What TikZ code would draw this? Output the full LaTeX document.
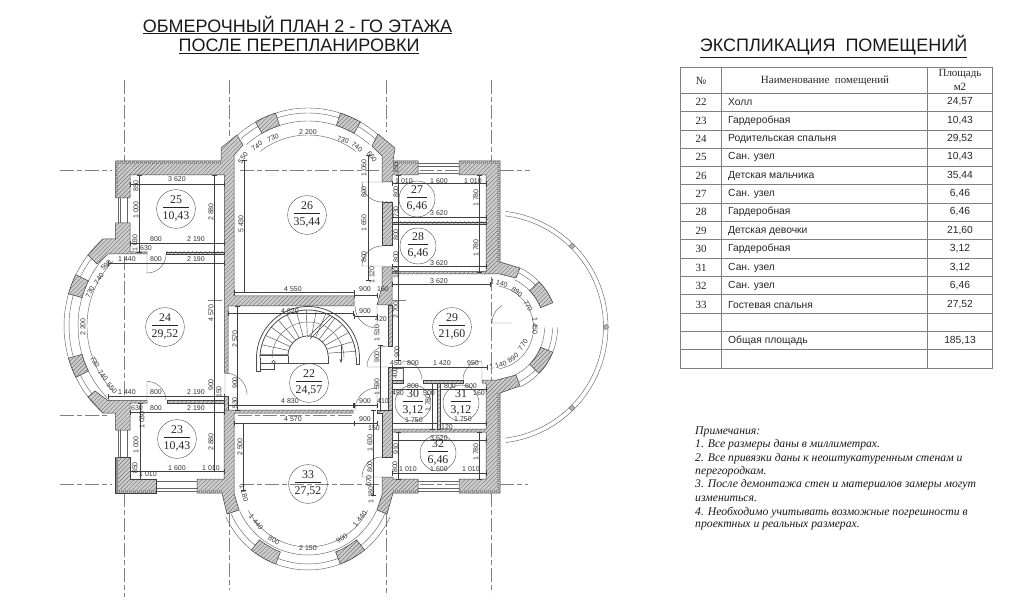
\documentclass[tikz,border=0pt]{standalone}
\usepackage{fontspec}
\setmainfont{Liberation Serif}
\setsansfont{Liberation Sans}
\usetikzlibrary{arrows.meta,patterns.meta}

\tikzset{
    wall/.style={draw=black!75,line width=.5pt,preaction={fill=gray!40},
        pattern={Lines[angle=45,distance=3pt,line width=.4pt]},pattern color=black!55},
    band/.style={draw=black!45,line width=2.6pt,dash pattern=on 1.2pt off .8pt},
    ringline/.style={draw=black!60,line width=.45pt},
    axisline/.style={draw=black!50,line width=.5pt,dash pattern=on 14pt off 3pt on 5pt off 3pt},
    dimline/.style={draw=black!75,line width=.35pt,{Bar[width=4pt,length=.4pt]}-{Bar[width=4pt,length=.4pt]}},
    dimlabel/.style={font=\sffamily\fontsize{7}{8}\selectfont,text=black!80,inner sep=0pt},
    roomtag/.style={circle,draw=black!70,line width=.4pt,minimum size=36pt,inner sep=0pt,
        font=\fontsize{11.8}{13}\selectfont,text=black!85},
    cellname/.style={font=\sffamily\fontsize{10.3}{11}\selectfont,text=black!85,inner sep=0pt},
    cellnum/.style={font=\fontsize{11}{13}\selectfont,text=black!85,inner sep=0pt},
    heading/.style={font=\sffamily\fontsize{18}{20}\selectfont,text=black!90,inner sep=0pt},
    noteline/.style={font=\itshape\fontsize{11.7}{12}\selectfont,text=black!90,inner sep=0pt,anchor=west},
}

% pier of a bay: centre x, centre y, inner r, outer r, from angle, to angle
\newcommand{\bayPier}[6]{%
    \draw[wall] plot[domain=#5:#6,samples=10] ({#1+#4*cos(\x)},{#2-#4*sin(\x)})
        -- plot[domain=#6:#5,samples=10] ({#1+#3*cos(\x)},{#2-#3*sin(\x)}) -- cycle;}
% one curve of a bay
\newcommand{\bayArc}[5]{%
    \draw[ringline] plot[domain=#4:#5,samples=40] ({#1+#3*cos(\x)},{#2-#3*sin(\x)});}
% door leaf: pivot x, pivot y, r, leaf angle, closing angle
\newcommand{\doorLeaf}[5]{%
    \draw[ringline] (#1,#2) -- ({#1+#3*cos(#4)},{#2-#3*sin(#4)})
        plot[domain=#4:#5,samples=16] ({#1+#3*cos(\x)},{#2-#3*sin(\x)});}
\newcommand{\roomText}[2]{\begin{tabular}{@{}c@{}}#1\\[-1pt]\hline\rule{0pt}{12pt}#2\end{tabular}}

\begin{document}
\begin{tikzpicture}[x=1pt,y=-1pt]
    \useasboundingbox (0,0) rectangle (1014,601);

    % axes
    \foreach \xa/\ya/\xb/\yb in {124.5/80/124.5/161,124.5/256/124.5/398,124.5/493/124.5/597,
            229.5/80/229.5/136,229.5/513/229.5/590,386/80/386/132,386/513/386/593,
            491/80/491/161,491/277/491/380,491/493/491/593,
            60/170/112/170,240/170/380/170,420/170/458/170,500/170/530/170,
            60/415/110/415,238/415/352/415,
            60/484/112/484,240/484/380/484,420/484/458/484,500/484/528/484,
            208/300/224/300,392/300/408/300}{%
        \draw[axisline] (\xa,\ya) -- (\xb,\yb);
    }

    % balcony
    \bayArc{491.5}{327}{116.5}{-83}{83}
    \bayArc{491.5}{327}{112}{-83}{83}
    \foreach \cx/\cy [count=\i] in {572/246,606/327,572/408}{%
        \node[circle,draw=black!60,fill=gray!60,line width=.4pt,minimum size=5pt,inner sep=0pt] (post\i) at (\cx,\cy) {};
    }

    % bays
    \foreach \r in {117,112,103}{\bayArc{181}{326}{\r}{132}{228}}
    \foreach \r in {105,100,92}{\bayArc{308}{213}{\r}{48}{132}}
    \foreach \r in {90,84,75}{\bayArc{308}{480}{\r}{204}{336}}
    \foreach \r in {66,61,53}{\bayArc{491.5}{327.5}{\r}{22}{64}\bayArc{491.5}{327.5}{\r}{-64}{0}}
    \bayPier{181}{326}{103}{117}{154}{164}
    \bayPier{181}{326}{103}{117}{196}{206}
    \bayPier{308}{213}{92}{105}{108}{120}
    \bayPier{308}{213}{92}{105}{60}{72}
    \bayPier{308}{480}{77}{90}{231}{249}
    \bayPier{308}{480}{77}{90}{291}{309}
    \bayPier{491.5}{327.5}{53}{66}{22}{44}
    \bayPier{491.5}{327.5}{53}{66}{-44}{-22}

    % window openings
    \foreach \xa/\ya/\xb/\yb in {118/198/118/223,120/198/120/223,127/198/127/223,
            118/430/118/457,120/430/120/457,127/430/127/457,
            418/163/459/163,418/166/459/166,418/173/459/173,
            418/481/459/481,418/488/459/488,418/491/459/491,
            156/481/197/481,156/488/197/488,156/491/197/491}{%
        \draw[ringline] (\xa,\ya) -- (\xb,\yb);
    }

    % walls
    \draw[wall] (115.5,198) -- (115.5,161) -- (221,161) -- (221,148) -- (237,135) -- (243,145) -- (234,155)
        -- (234,296) -- (354,296) -- (354,306) -- (228,306) -- (228,373) -- (224.5,373) -- (224.5,175)
        -- (130,175) -- (130,198) -- cycle;
    \draw[wall] (115.5,223) -- (115.5,239) -- (103,239) -- (88,255) -- (97,264) -- (108,254) -- (147,254)
        -- (147,252) -- (130,252) -- (130,223) -- cycle;
    \draw[wall] (166,252) rectangle (224.5,254);
    \draw[wall] (115.5,430) -- (115.5,413) -- (103,413) -- (88,397) -- (95,391) -- (108,400.5) -- (147,400.5)
        -- (147,403) -- (130,403) -- (130,430) -- cycle;
    \draw[wall] (167,400.5) rectangle (224.5,403);
    \draw[wall] (224.5,396) rectangle (228,410);
    \draw[wall] (115.5,457) -- (115.5,493) -- (156,493) -- (156,479) -- (130,479) -- (130,457) -- cycle;
    \draw[wall] (197,493) -- (197,479) -- (224,479) -- (224,410) -- (353,410) -- (353,413) -- (234,413) -- (234,493)
        -- (239,510) -- (227,514) -- (222,493) -- cycle;
    \draw[wall] (378,134) -- (395,148) -- (393,161) -- (418,161) -- (418,175) -- (392,175) -- (392,182) -- (382,182)
        -- (382,156) -- (372,146) -- cycle;
    \draw[wall] (459,175) -- (459,161) -- (500,161) -- (500,262) -- (520,268) -- (516,278) -- (500,274)
        -- (392,274) -- (392,271.5) -- (486,271.5) -- (486,175) -- cycle;
    \draw[wall] (382,202) rectangle (392,245);
    \draw[wall] (392,222) rectangle (486,224.5);
    \draw[wall] (382,267) -- (392,267) -- (392,305) -- (377,305) -- (382,287) -- cycle;
    \draw[wall] (388,305) rectangle (392,346);
    \draw[wall] (388,367) rectangle (392,429);
    \draw[ringline] (392,368) rectangle (403,380);
    \draw[wall] (392,380) rectangle (403,383);
    \draw[wall] (423,380) rectangle (463,383);
    \draw[wall] (459,493) -- (500,493) -- (500,393) -- (520,386) -- (516,375) -- (497,380) -- (482,380) -- (482,383)
        -- (486,383) -- (486,429) -- (388,429) -- (388,432) -- (486,432) -- (486,479) -- (459,479) -- cycle;
    \draw[wall] (437,383) rectangle (440,429);
    \draw[wall] (377,410) -- (392,410) -- (392,457) -- (382,457) -- (382,413) -- (377,413) -- cycle;
    \draw[wall] (393,479) -- (418,479) -- (418,493) -- (393,493) -- (387,514) -- (377,510) -- (382,495) -- (382,477)
        -- (393,477) -- cycle;

    % outer band of the walls
    \draw[band] (117,198) -- (117,162.5) -- (221,162.5);
    \draw[band] (393,162.5) -- (418,162.5);
    \draw[band] (459,162.5) -- (498.5,162.5) -- (498.5,262);
    \draw[band] (498.5,393) -- (498.5,491.5) -- (459,491.5);
    \draw[band] (418,491.5) -- (393,491.5);
    \draw[band] (197,491.5) -- (222,491.5);
    \draw[band] (156,491.5) -- (117,491.5) -- (117,457);

    % doors
    \doorLeaf{147}{254}{19}{270}{360}
    \doorLeaf{147}{400.5}{19}{90}{0}
    \doorLeaf{225}{395}{22}{90}{0}
    \doorLeaf{377}{306}{22}{270}{180}
    \doorLeaf{377}{410}{22}{90}{180}
    \doorLeaf{388}{367}{21}{180}{90}
    \doorLeaf{382}{182}{20}{180}{270}
    \doorLeaf{382}{266}{20}{180}{90}
    \doorLeaf{382}{477}{20}{180}{90}
    \doorLeaf{403}{380}{19}{90}{0}
    \doorLeaf{482}{380}{19}{90}{180}
    \doorLeaf{512}{323}{20}{180}{120}

    % stairs
    \begin{scope}[draw=black!70,line width=.45pt]
        \foreach \a in {8,20,...,176}{%
            \draw ({308+20*cos(\a)},{356-20*sin(\a)}) -- ({308+48*cos(\a)},{358-48*sin(\a)});
        }
        \bayArc{308}{358}{36}{0}{180}
        \draw[line width=.8pt] plot[domain=0:180,samples=50] ({308+20*cos(\x)},{356-20*sin(\x)});
        \draw[line width=.8pt] plot[domain=0:180,samples=50] ({308+48*cos(\x)},{358-48*sin(\x)});
        \draw[line width=.8pt] plot[domain=0:180,samples=50] ({308+51.5*cos(\x)},{358-51.5*sin(\x)});
        \draw[line width=.8pt] (288,356) -- (288,363.5) -- (328,363.5) -- (328,356);
        \draw[line width=.6pt] (359.5,358) -- (359.5,364) -- (356,364) -- (356,358);
        \draw[line width=.6pt] (256.5,358) -- (256.5,371) -- (260,371) -- (260,358);
        \draw (260,355) -- (288,355) (260,363.5) -- (288,363.5) (274,363.5) -- (274,369) -- (260,369);
        \draw (308,337) -- (330,315) (310,339) -- (332,317);
        \draw[-{Stealth[length=4pt,width=3pt]}] (341,345) -- (341,363);
        \node[circle,draw=black!70,line width=.4pt,minimum size=3.5pt,inner sep=0pt] (stairmark) at (273.5,362) {};
    \end{scope}

    % dimension curves
    \bayArc{181}{326}{94}{136}{224}
    \bayArc{308}{213}{78}{52}{128}
    \bayArc{308}{480}{67}{207}{333}
    \bayArc{491.5}{327.5}{42}{-80}{80}

    % dimension lines
    \foreach \xa/\ya/\xb/\yb in {130/184/224/184,130/243/224/243,108/263/224/263,234/292/354/292,228/313/353/313,
            228/405/353/405,234/423/354/423,108/396/224/396,130/412/224/412,130/471/224/471,
            392/183/486/183,392/217/486/217,392/266/486/266,392/284/490/284,392/367/487/367,
            392/440/486/440,392/473/486/473,392/423/437/423,440/423/486/423,392/389/437/389,440/389/486/389,
            354/295/377/295,354/316/377/316,354/405/377/405,354/423/377/423,
            139/175/139/252,214/175/214/471,244/160/244/292,237/306/237/410,140/403/140/479,243/423/243/490,
            368/155/368/280,398/175/398/360,479/175/479/272,479/432/479/479,380/345/380/410,373/410/373/495,
            398/432/398/479,432/383/432/429}{%
        \draw[dimline] (\xa,\ya) -- (\xb,\yb);
    }

    % dimension labels
    \foreach \px/\py/\txt/\rot [count=\i] in {177/179/3 620/0,136/186/850/90,136/210/1 000/90,135/243/1 030/90,
            146/248/630/0,156/239/800/0,196/239/2 190/0,196/259/2 190/0,156/259/800/0,127/259/1 440/0,
            211/212/2 880/90,241/224/5 430/90,293/289/4 550/0,290/311/4 820/0,211/313/4 570/90,235/339/2 570/90,
            83/327/2 200/90,90/292/730/65,99/279/740/55,106/265/590/45,
            308/132/2 200/0,273/138/730/20,257/146/740/35,243/158/550/55,343/140/730/-20,357/147/740/-35,372/157/650/-55,
            364/168/1 060/90,364/192/800/90,364/223/1 650/90,364/257/800/90,372/275/1 120/90,
            365/289/900/0,383/289/160/0,365/311/900/0,381/319/420/0,377/333/1 510/90,
            396/168/250/90,396/192/800/90,396/212/730/90,396/235/800/90,396/257/800/90,396/273/180/90,396/310/2 700/90,
            404/181/1 010/0,439/181/1 600/0,473/181/1 010/0,476/198/1 780/90,439/213/3 620/0,476/248/1 780/90,
            439/263/3 620/0,439/281/3 620/0,499/283/1 140/-15,517/292/890/-35,528/306/770/-60,535/326/1 450/-90,
            523/345/770/55,513/358/890/35,498/365/1 140/15,
            377/357/900/90,397/352/900/90,396/363/450/0,413/363/800/0,442/363/1 420/0,473/363/950/0,
            377/387/1 590/90,365/401/900/0,383/401/410/0,365/419/900/0,374/428/150/0,370/443/1 630/90,370/467/800/90,
            371/495/1 180/90,369/481/070/90,360/519/1 440/50,342/538/900/30,
            413/386/800/0,450/386/800/0,471/386/800/0,398/393/450/0,429/393/500/0,479/393/160/0,428/403/1 780/90,
            414/420/1 750/0,463/419/1 750/0,447/427/120/0,395/373/400/90,439/438/3 620/0,396/449/910/90,395/467/800/90,
            408/469/1 010/0,439/469/1 600/0,471/469/1 010/0,476/452/1 780/90,
            95/362/730/-60,103/375/740/-50,112/388/550/-45,127/392/1 440/0,156/392/800/0,196/392/2 190/0,
            211/385/900/90,219/392/150/90,235/383/900/90,235/403/530/90,137/408/630/0,156/408/800/0,196/408/2 190/0,
            142/420/1 030/90,136/445/1 000/90,135/468/850/90,148/474/1 010/0,177/468/1 600/0,211/468/1 010/0,
            211/442/2 880/90,290/401/4 830/0,293/419/4 570/0,240/447/2 500/90,244/493/1 180/-75,256/522/1 440/-50,
            274/540/800/-30,308/548/2 150/0}{%
        \node[dimlabel,rotate=\rot] (dim\i) at (\px,\py) {\txt};
    }

    % room tags
    \foreach \px/\py/\num/\area in {176/209/25/{10,43},307/215/26/{35,44},165/327/24/{29,52},417/199/27/{6,46},
            418/246/28/{6,46},452/327/29/{21,60},177/439/23/{10,43},308/484/33/{27,52},309/383/22/{24,57},
            413/403/30/{3,12},461/403/31/{3,12},438/453/32/{6,46}}{%
        \node[roomtag] (room\num) at (\px,\py) {\roomText{\num}{\area}};
    }

    % titles
    \node[heading] (plantitle) at (297.5,25) {\underline{ОБМЕРОЧНЫЙ ПЛАН 2 - ГО ЭТАЖА}};
    \node[heading] (plansubtitle) at (299,46) {\underline{ПОСЛЕ ПЕРЕПЛАНИРОВКИ}};
    \node[heading] (tabletitle) at (833.5,46.5) {\underline{ЭКСПЛИКАЦИЯ\ \ ПОМЕЩЕНИЙ}};

    % table
    \foreach \y in {67,93.5,111.5,130,148.5,166.5,184.5,203,221,239,258,276,294.5,313,331,349.5,368}{%
        \draw[black!50,line width=.6pt] (680.3,\y) -- (992.7,\y);
    }
    \foreach \x in {680.3,721.5,927.3,992.7}{%
        \draw[black!50,line width=.6pt] (\x,67) -- (\x,368);
    }
    \node[cellnum] (headnum) at (701,80.5) {№};
    \node[cellnum] (headname) at (825,81) {Наименование\ \ помещений};
    \node[cellnum] (headarea) at (960,74.5) {Площадь};
    \node[cellnum] (headunit) at (960,87) {м2};
    \foreach \num/\txt/\area/\y in {22/Холл/{24,57}/102,23/Гардеробная/{10,43}/121,24/Родительская спальня/{29,52}/139,
            25/Сан. узел/{10,43}/157,26/Детская мальчика/{35,44}/176,27/Сан. узел/{6,46}/194,28/Гардеробная/{6,46}/212,
            29/Детская девочки/{21,60}/231,30/Гардеробная/{3,12}/249,31/Сан. узел/{3,12}/268,32/Сан. узел/{6,46}/286,
            33/Гостевая спальня/{27,52}/305}{%
        \node[cellnum] (no\num) at (701,\y) {\num};
        \node[cellname,anchor=west] (name\num) at (728,\y) {\txt};
        \node[cellname] (area\num) at (960,\y) {\area};
    }
    \node[cellname,anchor=west] (nametotal) at (728,341) {Общая площадь};
    \node[cellname] (areatotal) at (960,341) {185,13};

    % notes
    \foreach \y/\txt [count=\i] in {432/Примечания:,445/1. Все размеры даны в миллиметрах.,
            459/2. Все привязки даны к неоштукатуренным стенам и,472/перегородкам.,
            485/3. После демонтажа стен и материалов замеры могут,499/измениться.,
            513/4. Необходимо учитывать возможные погрешности в,526/проектных и реальных размерах.}{%
        \node[noteline] (note\i) at (695,\y) {\txt};
    }
\end{tikzpicture}
\end{document}
